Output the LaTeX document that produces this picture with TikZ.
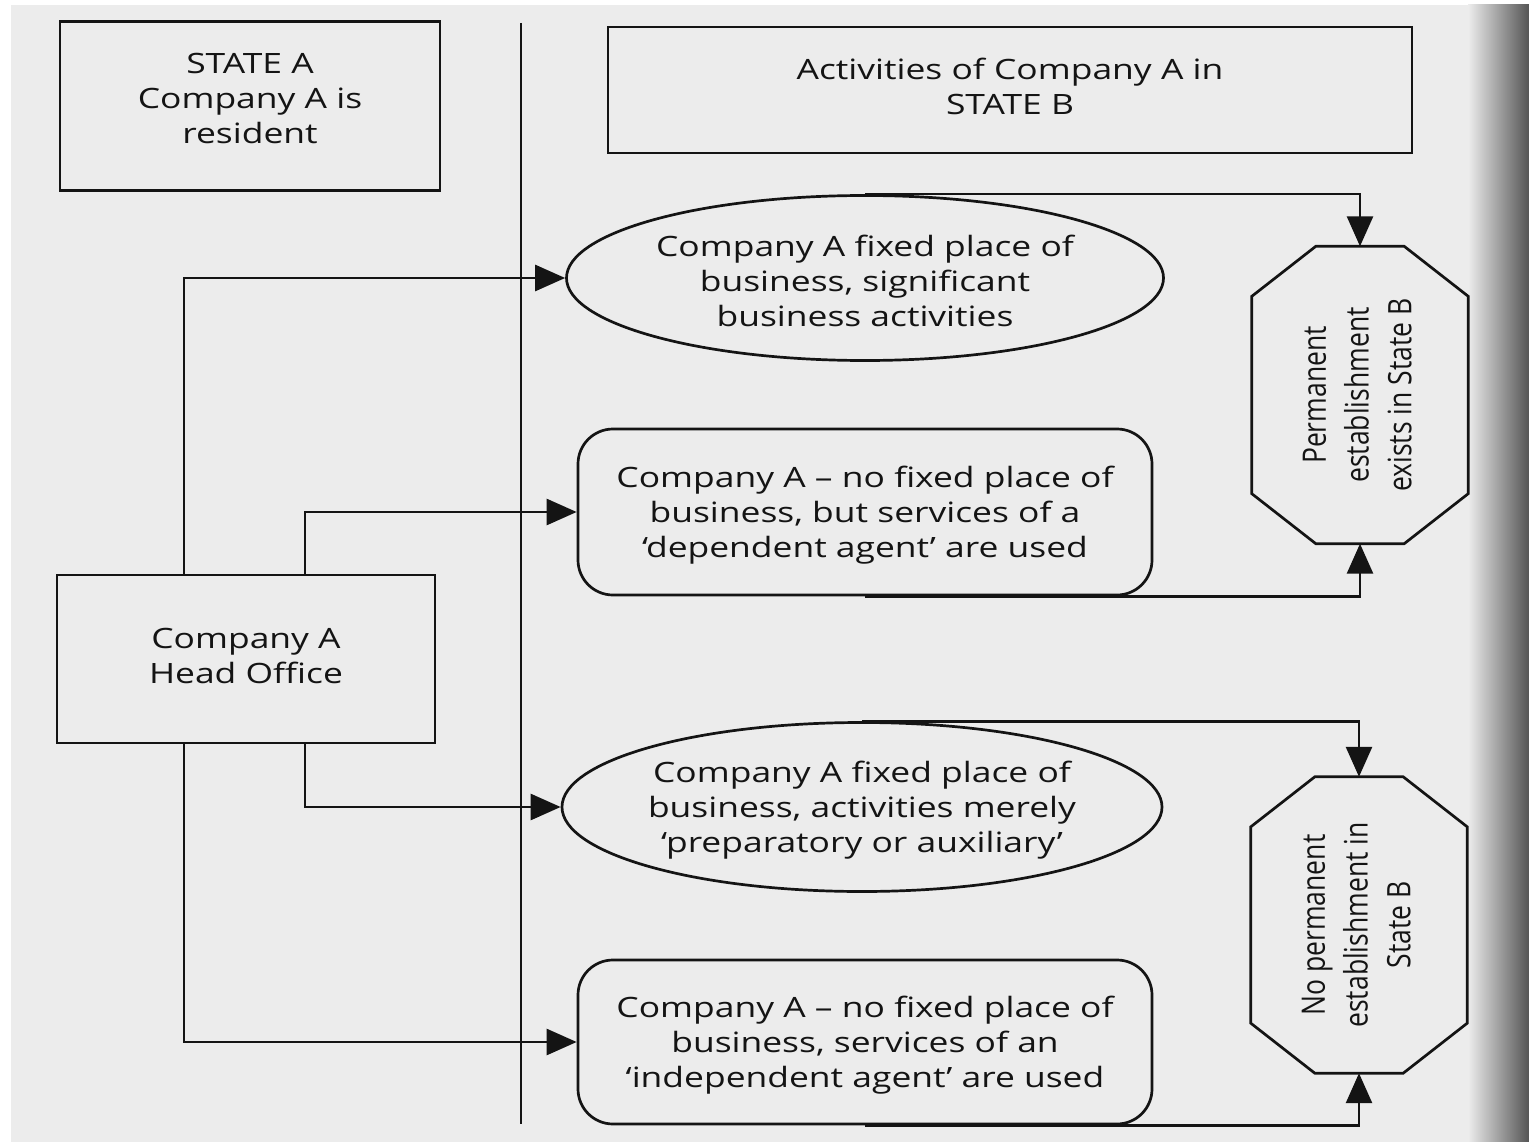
\documentclass[tikz,border=0pt]{standalone}
\usepackage{fontspec}
\usepackage{graphicx}
\setmainfont{Open Sans}[FakeStretch=1.265]
\newfontfamily\rotfont{Open Sans}
\usetikzlibrary{shapes.geometric,arrows.meta,calc}
\definecolor{paper}{RGB}{236,236,236}
\definecolor{gutter}{RGB}{85,85,85}
\definecolor{ink}{RGB}{20,20,20}
\newcommand\octagonpath[1]{%
  \draw[conn] ($(#1.north west)+(64,0)$) -- ($(#1.north east)+(-64,0)$)
    -- ($(#1.north east)+(0,50)$) -- ($(#1.south east)+(0,-50)$)
    -- ($(#1.south east)+(-64,0)$) -- ($(#1.south west)+(64,0)$)
    -- ($(#1.south west)+(0,-50)$) -- ($(#1.north west)+(0,50)$) -- cycle;}
\newcommand\rottext[1]{\scalebox{1.22}[1]{\rotatebox{90}{\rotfont\fontsize{26.5}{35}\selectfont\begin{tabular}{@{}c@{}}#1\end{tabular}}}}
\newcommand\liftlines[2]{\raisebox{#1}[\height][\depth]{\begin{tabular}{@{}c@{}}#2\end{tabular}}}
\begin{document}
\begin{tikzpicture}[x=1pt,y=-1pt,
  every node/.style={font=\fontsize{28}{35}\selectfont, text=ink, align=center, inner sep=0pt},
  conn/.style={draw=ink, line width=2.7pt},
  arr/.style={conn, -{Triangle[length=30pt,width=26pt]}},
  boxnode/.style={draw=ink, line width=2.7pt, rectangle},
  roundnode/.style={boxnode, rounded corners=35pt},
  ellnode/.style={draw=ink, line width=2.7pt, ellipse, inner xsep=-60pt, inner ysep=-20pt},
  octnode/.style={rectangle, minimum width=216pt, minimum height=297pt}
]
\useasboundingbox (0,0) rectangle (1529,1142);
\fill[white] (0,0) rectangle (1529,1142);
\fill[paper] (11,5) rectangle (1529,1142);
\shade[left color=paper, right color=gutter] (1468,5) rectangle (1529,1142);

% divider
\coordinate (divtop) at (521,23);
\coordinate (divbot) at (521,1124);
\draw[conn] (divtop) -- (divbot);

% boxes
\node[boxnode, minimum width=380pt, minimum height=169pt] (sa) at (250,106) {\liftlines{4.5pt}{STATE A\\Company A is\\resident}};
\node[boxnode, minimum width=804pt, minimum height=126pt] (sb) at (1010,90) {\liftlines{0pt}{Activities of Company A in\\STATE B}};
\node[boxnode, minimum width=378pt, minimum height=168pt] (ho) at (246,659) {\liftlines{0pt}{Company A\\Head Office}};

\node[ellnode, minimum width=597pt, minimum height=165pt] (e1) at (865,278) {\liftlines{-6.5pt}{Company A fixed place of\\business, significant\\business activities}};
\node[roundnode, minimum width=574pt, minimum height=166pt] (b2) at (865,512) {\liftlines{-3.5pt}{Company A – no fixed place of\\business, but services of a\\‘dependent agent’ are used}};
\node[ellnode, minimum width=600pt, minimum height=169pt] (e3) at (862,807) {\liftlines{-3.5pt}{Company A fixed place of\\business, activities merely\\‘preparatory or auxiliary’}};
\node[roundnode, minimum width=574pt, minimum height=164pt] (b4) at (865,1042) {\liftlines{-3pt}{Company A – no fixed place of\\business, services of an\\‘independent agent’ are used}};

\node[octnode] (o1) at (1360,395) {\rottext{Permanent\\establishment\\exists in State B}};
\octagonpath{o1}
\node[octnode, minimum height=296pt] (o2) at (1359,925) {\rottext{No permanent\\establishment in\\State B}};
\octagonpath{o2}

% connectors from head office
\draw[arr] ([xshift=-62pt]ho.north) |- (e1.west);
\draw[arr] ([xshift=59pt]ho.north) |- (b2.west);
\draw[arr] ([xshift=59pt]ho.south) |- (e3.west);
\draw[arr] ([xshift=-62pt]ho.south) |- (b4.west);

% connectors to octagons
\draw[arr] (e1.north) -| (o1.north);
\draw[arr] (b2.south) -| (o1.south);
\draw[arr] (e3.north) -| (o2.north);
\draw[arr] (b4.south) -| (o2.south);
\end{tikzpicture}
\end{document}
